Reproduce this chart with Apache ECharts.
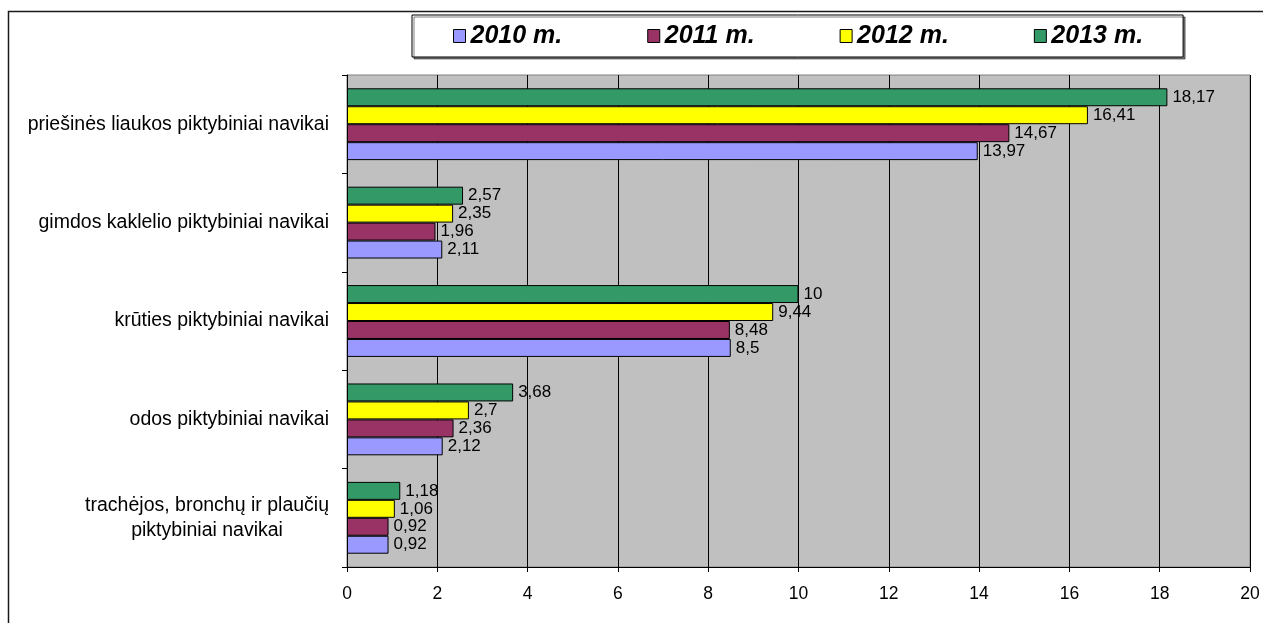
<!DOCTYPE html>
<html>
<head>
<meta charset="utf-8">
<script src="https://cdn.jsdelivr.net/npm/echarts@6/dist/echarts.min.js"></script>
<style>
html,body{margin:0;padding:0;background:#fff;}
#chart{width:1263px;height:623px;}
</style>
</head>
<body>
<div id="chart"></div>
<script>
// Categories, top to bottom as in the picture
const categories = [
  'priešinės liaukos piktybiniai navikai',
  'gimdos kaklelio piktybiniai navikai',
  'krūties piktybiniai navikai',
  'odos piktybiniai navikai',
  'trachėjos, bronchų ir plaučių\npiktybiniai navikai'
];
const years = ['2010 m.', '2011 m.', '2012 m.', '2013 m.'];
const values2010 = [13.97, 2.11, 8.5, 2.12, 0.92];
const values2011 = [14.67, 1.96, 8.48, 2.36, 0.92];
const values2012 = [16.41, 2.35, 9.44, 2.7, 1.06];
const values2013 = [18.17, 2.57, 10, 3.68, 1.18];
const xTicks = [0, 2, 4, 6, 8, 10, 12, 14, 16, 18, 20];

const colors = {
  '2010 m.': '#9999FF',
  '2011 m.': '#993366',
  '2012 m.': '#FFFF00',
  '2013 m.': '#339966'
};
const seriesValues = {
  '2010 m.': values2010,
  '2011 m.': values2011,
  '2012 m.': values2012,
  '2013 m.': values2013
};

const FONT = '"Liberation Sans", Arial, sans-serif';

// Series listed 2013 first so it sits on top within each group
const drawOrder = ['2013 m.', '2012 m.', '2011 m.', '2010 m.'];
const series = drawOrder.map(name => ({
  name: name,
  type: 'bar',
  data: seriesValues[name],
  barGap: '0%',
  barCategoryGap: '27%',
  itemStyle: { color: colors[name], borderColor: '#000', borderWidth: 1 },
  label: {
    show: true,
    position: 'right',
    distance: 5,
    color: '#000',
    fontFamily: FONT,
    fontSize: 17,
    formatter: p => String(p.value).replace('.', ',')
  },
  emphasis: { disabled: true },
  animation: false
}));

const chart = echarts.init(document.getElementById('chart'), null, { renderer: 'canvas' });
chart.setOption({
  animation: false,
  backgroundColor: '#fff',
  graphic: [{
    type: 'rect',
    shape: { x: 8.5, y: 11.5, width: 1300, height: 700 },
    style: { fill: 'none', stroke: '#1a1a1a', lineWidth: 1.5 },
    silent: true,
    z: -1
  }],
  legend: {
    data: years,
    left: 412,
    top: 15,
    padding: [8, 40, 8, 41],
    itemGap: 85,
    itemWidth: 12,
    itemHeight: 13,
    icon: 'rect',
    backgroundColor: '#fff',
    borderColor: '#000',
    borderWidth: 1,
    shadowColor: 'rgba(0,0,0,0.5)',
    shadowOffsetX: 2,
    shadowOffsetY: 2,
    shadowBlur: 0,
    itemStyle: { borderColor: '#000', borderWidth: 1 },
    textStyle: {
      fontFamily: FONT,
      fontSize: 25,
      fontWeight: 'bold',
      fontStyle: 'italic',
      color: '#000',
      lineHeight: 26
    },
    selectedMode: false
  },
  grid: {
    left: 347,
    top: 75,
    width: 903,
    height: 492,
    show: true,
    backgroundColor: '#C0C0C0',
    borderColor: '#808080',
    borderWidth: 1,
    containLabel: false
  },
  xAxis: {
    type: 'value',
    min: xTicks[0],
    max: xTicks[xTicks.length - 1],
    interval: xTicks[1] - xTicks[0],
    axisLine: { show: true, lineStyle: { color: '#000', width: 1 } },
    axisTick: { show: true, length: 5, lineStyle: { color: '#000' } },
    splitLine: { show: true, lineStyle: { color: '#000', width: 1 } },
    axisLabel: {
      color: '#000',
      fontFamily: FONT,
      fontSize: 17.5,
      margin: 18,
      formatter: v => String(v).replace('.', ',')
    }
  },
  yAxis: {
    type: 'category',
    data: categories,
    inverse: true,
    axisLine: { show: true, lineStyle: { color: '#000', width: 1 } },
    axisTick: { show: true, length: 5, lineStyle: { color: '#000' } },
    splitLine: { show: false },
    axisLabel: {
      color: '#000',
      fontFamily: FONT,
      fontSize: 19.5,
      margin: 18,
      lineHeight: 25,
      formatter: v => v.split('\n').map(s => '{c|' + s + '}').join('\n'),
      rich: {
        c: {
          align: 'center',
          color: '#000',
          fontFamily: FONT,
          fontSize: 19.5,
          lineHeight: 25
        }
      }
    }
  },
  series: series
});
</script>
</body>
</html>
